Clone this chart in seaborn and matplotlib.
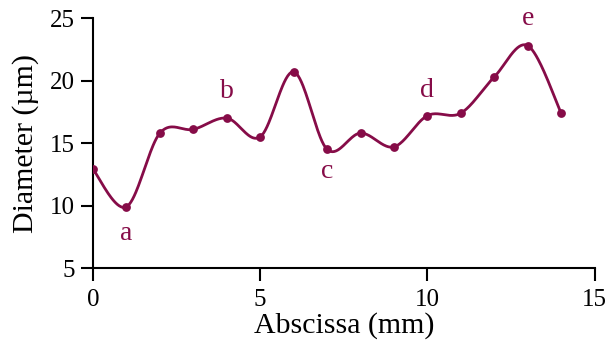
import numpy as np
import pandas as pd
import matplotlib
matplotlib.use("Agg")
import matplotlib.pyplot as plt
import seaborn as sns

# data
abscissa = [0, 1, 2, 3, 4, 5, 6, 7, 8, 9, 10, 11, 12, 13, 14]
diameter = [12.9, 9.9, 15.8, 16.1, 17.0, 15.5, 20.7, 14.5, 15.8, 14.7,
            17.2, 17.4, 20.3, 22.8, 17.4]
point_labels = ["a", "b", "c", "d", "e"]
label_x = [1, 4, 7, 10, 13]
label_y = [7.8, 19.1, 12.7, 19.2, 25.0]

color = "#860C48"


def smooth_curve(x, y, n=40):
    """Excel-like smoothed line (Catmull-Rom Bezier segments)."""
    pts = np.column_stack([x, y]).astype(float)
    padded = np.vstack([pts[0], pts, pts[-1]])
    out = []
    t = np.linspace(0, 1, n)[:, None]
    for i in range(1, len(padded) - 2):
        p0, p1, p2, p3 = padded[i - 1], padded[i], padded[i + 1], padded[i + 2]
        c1 = p1 + (p2 - p0) / 6
        c2 = p2 - (p3 - p1) / 6
        seg = ((1 - t) ** 3) * p1 + 3 * ((1 - t) ** 2) * t * c1 \
            + 3 * (1 - t) * t ** 2 * c2 + t ** 3 * p2
        out.append(seg if i == 1 else seg[1:])
    out = np.vstack(out)
    return out[:, 0], out[:, 1]


sns.set_theme(style="ticks")
plt.rcParams["font.family"] = ["Liberation Serif", "DejaVu Serif"]
plt.rcParams["text.color"] = "black"
plt.rcParams["axes.labelcolor"] = "black"

df = pd.DataFrame({"x": abscissa, "y": diameter})
sx, sy = smooth_curve(abscissa, diameter)
curve = pd.DataFrame({"x": sx, "y": sy})

fig = plt.figure(figsize=(6.08, 3.49), dpi=100)
ax = fig.add_axes([0.153, 0.232, 0.825, 0.716])

sns.lineplot(data=curve, x="x", y="y", ax=ax, color=color, linewidth=2,
             sort=False, estimator=None)
sns.scatterplot(data=df, x="x", y="y", ax=ax, color=color, s=40,
                edgecolor=color, linewidth=0, zorder=3)

for lab, lx, ly in zip(point_labels, label_x, label_y):
    ax.text(lx, ly, lab, color=color, fontsize=20, ha="center", va="center")

ax.set_xlim(0, 15)
ax.set_ylim(5, 25)
ax.set_xticks([0, 5, 10, 15])
ax.set_yticks([5, 10, 15, 20, 25])
ax.set_xlabel("Abscissa (mm)", fontsize=21.5, labelpad=1)
ax.set_ylabel("Diameter (\u00b5m)", fontsize=21.5, labelpad=8)
ax.tick_params(axis="both", labelsize=18, length=9, width=1.5,
               color="black", labelcolor="black", direction="out")
ax.tick_params(axis="x", pad=6)
ax.tick_params(axis="y", pad=4)
for side in ["top", "right"]:
    ax.spines[side].set_visible(False)
for side in ["left", "bottom"]:
    ax.spines[side].set_linewidth(1.5)
    ax.spines[side].set_color("black")
    ax.spines[side].set_clip_on(False)

fig.savefig("out.png", dpi=100)
